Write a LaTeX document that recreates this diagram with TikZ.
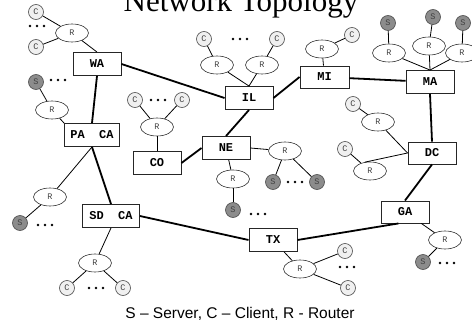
\documentclass[tikz,border=0pt]{standalone}
\usepackage{fontspec}
\setmainfont{Liberation Serif}
\setmonofont{Liberation Mono}
\newfontfamily\capfont{Liberation Sans}
\usetikzlibrary{shapes.geometric}

\begin{document}
\begin{tikzpicture}[x=1pt,y=-1pt,
  box/.style={draw=black!85, line width=0.9pt, fill=white, minimum width=48pt,
    minimum height=23pt, inner sep=0pt, font=\ttfamily\bfseries\fontsize{12}{13}\selectfont},
  router/.style={ellipse, draw=black!80, line width=0.6pt, fill=white, minimum width=33pt,
    minimum height=18pt, inner sep=0pt, font=\ttfamily\fontsize{8.5}{9}\selectfont, text=black!75},
  client/.style={circle, draw=black!70, line width=0.6pt, fill=black!6, minimum size=15pt,
    inner sep=0pt, font=\ttfamily\fontsize{8.5}{9}\selectfont, text=black!75},
  server/.style={client, fill=black!45},
  trunk/.style={line width=1.8pt},
  link/.style={line width=0.8pt},
  dots/.pic={\fill (-7,0) circle (1.3) (0,0) circle (1.3) (7,0) circle (1.3);}
]
\useasboundingbox (0,0) rectangle (472,324);

% title and legend
\node[anchor=base, font=\fontsize{31}{36}\selectfont] (title) at (241,11) {Network Topology};
\node[anchor=base, font=\capfont\fontsize{15.5}{18}\selectfont] (legend) at (240,318)
  {S – Server, C – Client, R - Router};

% backbone sites
\node[box] (WA) at (97,64) {WA};
\node[box, minimum width=55pt] (PA) at (92,135) {PA~~CA};
\node[box, minimum width=57pt] (SD) at (111,216) {SD~~CA};
\node[box] (IL) at (249,98) {IL};
\node[box] (CO) at (157,163) {CO};
\node[box] (NE) at (226,148) {NE};
\node[box, minimum width=49pt, minimum height=22pt] (MI) at (324.5,77) {MI};
\node[box] (MA) at (430,82) {MA};
\node[box, minimum height=22pt] (DC) at (432,153) {DC};
\node[box, minimum height=22pt] (GA) at (405,212) {GA};
\node[box] (TX) at (273,240) {TX};

% WA
\node[client] (cWa1) at (36,12) {C};
\node[client] (cWa2) at (36,47) {C};
\pic at (37,26) {dots};
\node[router] (rWa) at (72,33) {R};
% PA CA
\node[server] (sWa) at (36,82) {S};
\pic at (58,80) {dots};
\node[router] (rPa1) at (52,110) {R};
\node[router] (rPa2) at (50,197) {R};
\node[server] (sPa) at (20,223) {S};
\pic at (45,225) {dots};
% SD CA
\node[router] (rSd) at (95,263) {R};
\node[client] (cSd1) at (67,288) {C};
\node[client] (cSd2) at (123,288) {C};
\pic at (96,288) {dots};
% IL
\node[client] (cIl1) at (204,39) {C};
\node[client] (cIl2) at (277,39) {C};
\pic at (240,39) {dots};
\node[router] (rIl1) at (217,65) {R};
\node[router] (rIl2) at (262,65) {R};
% CO
\node[client] (cCo1) at (135,100) {C};
\node[client] (cCo2) at (182,100) {C};
\pic at (158,100) {dots};
\node[router] (rCo) at (157,127) {R};
% NE
\node[router] (rNe1) at (285,151) {R};
\node[server] (sNe1) at (273,182) {S};
\node[server] (sNe2) at (317,182) {S};
\pic at (295,182) {dots};
\node[router] (rNe2) at (233,179) {R};
\node[server] (sNe3) at (233,210) {S};
\pic at (258,214) {dots};
% MI
\node[router] (rMi) at (322,49) {R};
\node[client] (cMi) at (352,35) {C};
% MA
\node[router] (rMa1) at (389,53) {R};
\node[router] (rMa2) at (429,46) {R};
\node[router] (rMa3) at (462,53) {R};
\node[server] (sMa1) at (388,23) {S};
\node[server] (sMa2) at (433,17) {S};
\node[server] (sMa3) at (463,23) {S};
% DC
\node[client] (cDc1) at (353,104) {C};
\node[router] (rDc1) at (378,122) {R};
\node[client] (cDc2) at (345,149) {C};
\node[router] (rDc2) at (370,171) {R};
% GA
\node[router] (rGa) at (445,240) {R};
\node[server] (sGa) at (423,262) {S};
\pic at (447,263) {dots};
% TX
\node[router] (rTx) at (300,269) {R};
\node[client] (cTx1) at (345,251) {C};
\node[client] (cTx2) at (348,288) {C};
\pic at (347,267) {dots};

% backbone links
\draw[trunk] (WA.east) -- (IL.west);
\draw[trunk] (WA.south) -- (PA.north);
\draw[trunk] (PA.south) -- (SD.north);
\draw[trunk] (SD.east) -- (TX.west);
\draw[trunk] (IL.east) -- (MI.west);
\draw[trunk] (IL.south) -- (NE.north);
\draw[trunk] (NE.west) -- (CO.east);
\draw[trunk] (MI) -- (MA);
\draw[trunk] (MA.south) -- (DC.north);
\draw[trunk] (DC.south) -- (GA.north);
\draw[trunk] (GA.240) -- (TX.east);

% access links
\draw[link] (cWa1) -- (rWa);
\draw[link] (cWa2) -- (rWa);
\draw[link] (rWa) -- (WA.north);
\draw[link] (sWa) -- (rPa1);
\draw[link] (rPa1) -- (PA.north west);
\draw[link] (PA.south) -- (rPa2);
\draw[link] (rPa2) -- (sPa);
\draw[link] (SD.south) -- (rSd);
\draw[link] (rSd) -- (cSd1);
\draw[link] (rSd) -- (cSd2);
\draw[link] (cIl1) -- (rIl1);
\draw[link] (cIl2) -- (rIl2);
\draw[link] (rIl1) -- (IL.north);
\draw[link] (rIl2) -- (IL.north);
\draw[link] (cCo1) -- (rCo);
\draw[link] (cCo2) -- (rCo);
\draw[link] (rCo) -- (CO);
\draw[link] (NE.east) -- (rNe1);
\draw[link] (rNe1) -- (sNe1);
\draw[link] (rNe1) -- (sNe2);
\draw[link] (NE) -- (rNe2);
\draw[link] (rNe2) -- (sNe3);
\draw[link] (MI) -- (rMi);
\draw[link] (rMi) -- (cMi);
\draw[link] (rMa1) -- (MA.north);
\draw[link] (rMa2) -- (MA.north);
\draw[link] (rMa3) -- (MA.north);
\draw[link] (rMa1) -- (sMa1);
\draw[link] (rMa2) -- (sMa2);
\draw[link] (rMa3) -- (sMa3);
\draw[link] (cDc1) -- (rDc1);
\draw[link] (rDc1) -- (DC.west);
\draw[link] (cDc2) -- (rDc2);
\draw[link] (rDc2.120) -- (DC.west);
\draw[link] (GA) -- (rGa);
\draw[link] (rGa) -- (sGa);
\draw[link] (TX) -- (rTx);
\draw[link] (rTx) -- (cTx1);
\draw[link] (rTx) -- (cTx2);
\end{tikzpicture}
\end{document}
